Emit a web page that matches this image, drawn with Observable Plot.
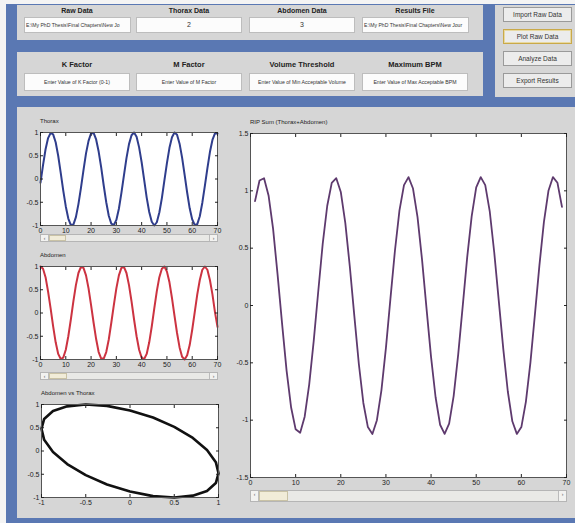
<!DOCTYPE html>
<html><head><meta charset="utf-8">
<script src="https://cdn.jsdelivr.net/npm/d3@7"></script>
<script src="https://cdn.jsdelivr.net/npm/@observablehq/plot@0.6"></script>
<style>
html,body{margin:0;padding:0;}
body{width:575px;height:523px;position:relative;overflow:hidden;background:#f4f4f4;font-family:"Liberation Sans",Arial,sans-serif;}
.a{position:absolute;}
.blue{background:#5a78b3;}
.panel{background:#d6d6d6;overflow:hidden;}
.box{position:absolute;background:#fcfcfc;border:1px solid #bdbdbd;color:#333;white-space:nowrap;overflow:hidden;text-align:center;}
.lbl{position:absolute;font-weight:bold;color:#222;text-align:center;white-space:nowrap;}
.btn{position:absolute;left:8px;width:67px;height:13px;background:#ececec;border:1px solid #9a9a9a;font-size:6.5px;line-height:13px;text-align:center;color:#333;}
.ttl{position:absolute;font-size:6px;color:#222;white-space:nowrap;}
.sl{position:absolute;background:#e9e9e6;border:1px solid #b5b5b5;}
.sl .ar{position:absolute;top:0;bottom:0;width:7px;background:#f2f2f0;border-right:1px solid #bbb;font-size:5px;line-height:7px;text-align:center;color:#555;}
.sl .th{position:absolute;top:0;bottom:0;background:#f1ecd8;border:1px solid #c9c2a5;}
</style>
</head><body>
<div id="root"></div>
<script>
// ---------------- data ----------------
const timeSamples = d3.range(0, 71);           // 0 … 70
const thoraxValues = [-0.08,0.30,0.64,0.88,0.99,0.96,0.79,0.50,0.13,-0.25,-0.59,-0.85,-0.99,-0.98,-0.82,-0.54,-0.19,0.19,0.55,0.82,0.98,0.99,0.85,0.59,0.25,-0.14,-0.50,-0.79,-0.96,-0.99,-0.88,-0.64,-0.30,0.08,0.45,0.75,0.94,1.00,0.91,0.68,0.36,-0.02,-0.40,-0.71,-0.92,-1.00,-0.93,-0.72,-0.41,-0.03,0.34,0.67,0.90,1.00,0.95,0.76,0.46,0.09,-0.29,-0.63,-0.87,-0.99,-0.97,-0.80,-0.51,-0.15,0.23,0.58,0.84,0.98,0.98];
const abdomenValues = [1.00,0.95,0.77,0.46,0.10,-0.29,-0.63,-0.88,-0.99,-0.96,-0.79,-0.50,-0.14,0.25,0.60,0.86,0.99,0.97,0.81,0.53,0.17,-0.21,-0.56,-0.84,-0.98,-0.98,-0.84,-0.57,-0.21,0.17,0.53,0.81,0.97,0.99,0.86,0.60,0.25,-0.14,-0.50,-0.79,-0.96,-0.99,-0.88,-0.63,-0.29,0.10,0.47,0.77,0.95,1.00,0.89,0.66,0.32,-0.06,-0.43,-0.74,-0.94,-1.00,-0.91,-0.69,-0.36,0.02,0.40,0.71,0.93,1.00,0.93,0.71,0.40,0.02,-0.30];
const sumSamples = d3.range(1, 70);            // 1 … 69
const sumValues = [0.91,1.09,1.11,0.96,0.67,0.27,-0.16,-0.57,-0.89,-1.08,-1.11,-0.97,-0.69,-0.31,0.12,0.54,0.87,1.07,1.11,0.99,0.72,0.34,-0.09,-0.51,-0.85,-1.06,-1.12,-1.00,-0.74,-0.37,0.06,0.48,0.83,1.05,1.12,1.02,0.77,0.40,-0.03,-0.45,-0.80,-1.04,-1.12,-1.03,-0.79,-0.43,-0.01,0.42,0.78,1.03,1.12,1.05,0.82,0.46,0.04,-0.38,-0.75,-1.01,-1.12,-1.06,-0.84,-0.50,-0.08,0.35,0.73,1.00,1.12,1.07,0.86];
const loopThorax  = [0,0.26,0.5,0.71,0.87,0.97,1.0,0.97,0.87,0.71,0.5,0.26,0,-0.26,-0.5,-0.71,-0.87,-0.97,-1.0,-0.97,-0.87,-0.71,-0.5,-0.26,0];
const loopAbdomen = [0.87,0.72,0.52,0.28,0.02,-0.24,-0.48,-0.69,-0.86,-0.96,-1.0,-0.97,-0.87,-0.72,-0.52,-0.28,-0.02,0.24,0.48,0.69,0.86,0.96,1.0,0.97,0.87];
const ticks70 = [0,10,20,30,40,50,60,70];
const ticksUnit = [-1,-0.5,0,0.5,1];
const ticksSum = [-1.5,-1,-0.5,0,0.5,1,1.5];
const ticksLoop = [-1,-0.5,0,0.5,1];
const topLabels = ["Raw Data","Thorax Data","Abdomen Data","Results File"];
const topValues = ["E:\\My PhD Thesis\\Final Chapters\\New Jo","2","3","E:\\My PhD Thesis\\Final Chapters\\New Jour"];
const paramLabels = ["K Factor","M Factor","Volume Threshold","Maximum BPM"];
const paramHints = ["Enter Value of K Factor (0-1)","Enter Value of M Factor","Enter Value of Min Acceptable Volume","Enter Value of Max Acceptable BPM"];
const buttons = ["Import Raw Data","Plot Raw Data","Analyze Data","Export Results"];
const titles = ["Thorax","Abdomen","Abdomen vs Thorax","RIP Sum (Thorax+Abdomen)"];

// ---------------- layout ----------------
const root = document.getElementById("root");
function div(cls, css, html){const d=document.createElement("div");d.className=cls;Object.assign(d.style,css);if(html!=null)d.textContent=html;root.appendChild(d);return d;}
function px(v){return v+"px";}

div("a blue",{left:"6px",top:"4px",width:"569px",height:"519px"});
const p1 = div("a panel",{left:"17px",top:"5px",width:"466px",height:"35px"});
const p2 = div("a panel",{left:"17px",top:"52px",width:"466px",height:"44px"});
const p3 = div("a panel",{left:"495px",top:"5px",width:"80px",height:"92px"});
div("a panel",{left:"17px",top:"107px",width:"558px",height:"411px"});

const boxX = [7,119,232,345];
topLabels.forEach((t,i)=>{
  const l=document.createElement("div");l.className="lbl";l.textContent=t;
  Object.assign(l.style,{left:px(boxX[i]),width:"106px",top:"1px",fontSize:"7px",lineHeight:"9px"});p1.appendChild(l);
  const b=document.createElement("div");b.className="box";b.textContent=topValues[i];
  const path = i===0||i===3;
  Object.assign(b.style,{left:px(boxX[i]),top:"12px",width:"104px",height:"14px",lineHeight:"14px",fontSize:path?"5.1px":"7px",textAlign:path?"left":"center",paddingLeft:path?"1px":"0"});p1.appendChild(b);
});
paramLabels.forEach((t,i)=>{
  const l=document.createElement("div");l.className="lbl";l.textContent=t;
  Object.assign(l.style,{left:px(boxX[i]),width:"106px",top:"8px",fontSize:"7.5px"});p2.appendChild(l);
  const b=document.createElement("div");b.className="box";b.textContent=paramHints[i];
  Object.assign(b.style,{left:px(boxX[i]),top:"21px",width:"104px",height:"16px",lineHeight:"16px",fontSize:"5.2px"});p2.appendChild(b);
});
buttons.forEach((t,i)=>{
  const b=document.createElement("div");b.className="btn";b.textContent=t;
  b.style.top=px(2+i*22);
  if(i===1){b.style.border="1px solid #c9a94a";b.style.boxShadow="inset 0 0 0 1px #e8d9a0";}
  p3.appendChild(b);
});

// ---------------- charts ----------------
const font = "'Liberation Sans', Arial, sans-serif";
function chart(o){
  const ml=22, mr=6, mt=6, mb=14;
  const w=o.R-o.L, h=o.B-o.T;
  const fmt = d=>String(d);
  const svg = Plot.plot({
    width:w+ml+mr, height:h+mt+mb, marginLeft:ml, marginRight:mr, marginTop:mt, marginBottom:mb,
    style:{background:"transparent", fontFamily:font, fontSize:"7px", color:"#222", overflow:"visible"},
    x:{domain:o.xd}, y:{domain:o.yd},
    marks:[
      Plot.frame({fill:"white", stroke:null}),
      Plot.line(o.data,{x:"x", y:"y", stroke:o.stroke, strokeWidth:o.sw, strokeLinejoin:"round", strokeLinecap:"round"}),
      Plot.frame({stroke:"#555", strokeWidth:1}),
      Plot.axisX(o.xt,{anchor:"bottom", tickSize:-3, tickPadding:6, tickFormat:fmt, label:null, fontSize:7}),
      Plot.axisX(o.xt,{anchor:"top", tickSize:-3, tickFormat:()=>"", label:null}),
      Plot.axisY(o.yt,{anchor:"left", tickSize:-3, tickPadding:5, tickFormat:fmt, label:null, fontSize:7}),
      Plot.axisY(o.yt,{anchor:"right", tickSize:-3, tickFormat:()=>"", label:null})
    ]
  });
  svg.style.position="absolute";
  svg.style.left=px(o.L-ml);
  svg.style.top=px(o.T-mt);
  root.appendChild(svg);
  div("ttl",{left:px(o.L),top:px(o.T-14)},o.title);
}
function slider(L,T,W,H,thL,thW){
  const s=div("sl",{left:px(L),top:px(T),width:px(W),height:px(H)});
  const a1=document.createElement("div");a1.className="ar";a1.style.left="0";a1.textContent="‹";s.appendChild(a1);
  const a2=document.createElement("div");a2.className="ar";a2.style.right="0";a2.style.borderRight="none";a2.style.borderLeft="1px solid #bbb";a2.textContent="›";s.appendChild(a2);
  const th=document.createElement("div");th.className="th";th.style.left=px(thL);th.style.width=px(thW);s.appendChild(th);
}

chart({L:40,R:217,T:132,B:225, xd:[0,70], yd:[-1,1], xt:ticks70, yt:ticksUnit,
  data:timeSamples.map((x,i)=>({x, y:thoraxValues[i]})), stroke:"#2f3d8c", sw:2, title:titles[0]});
slider(40,234,176,6,8,15);

chart({L:40,R:217,T:266,B:359, xd:[0,70], yd:[-1,1], xt:ticks70, yt:ticksUnit,
  data:timeSamples.map((x,i)=>({x, y:abdomenValues[i]})), stroke:"#cc3341", sw:2, title:titles[1]});
slider(40,372,176,6,8,16);

chart({L:41,R:218,T:404,B:497, xd:[-1,1], yd:[-1,1], xt:ticksLoop, yt:ticksLoop,
  data:loopThorax.map((x,i)=>({x, y:loopAbdomen[i]})), stroke:"#111", sw:2.6, title:titles[2]});

chart({L:250,R:566,T:133,B:477, xd:[0,70], yd:[-1.5,1.5], xt:ticks70, yt:ticksSum,
  data:sumSamples.map((x,i)=>({x, y:sumValues[i]})), stroke:"#5e3a6e", sw:1.8, title:titles[3]});
slider(250,490,315,10,8,27);
</script>
</body></html>
